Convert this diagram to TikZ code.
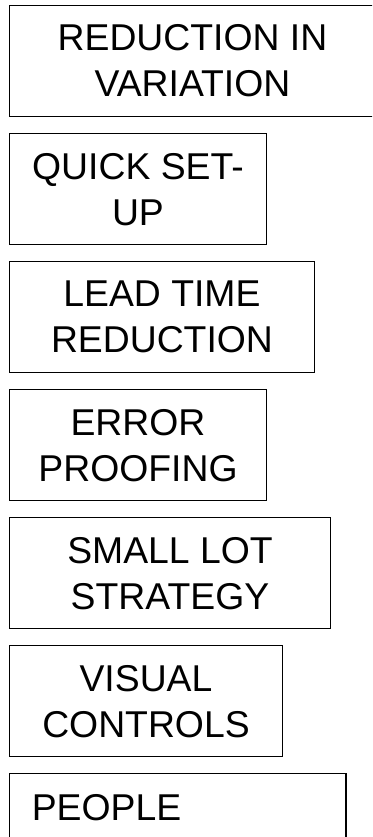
\documentclass[tikz,border=0pt]{standalone}
\usepackage{fontspec}
\setmainfont{Liberation Sans}
\begin{document}
\begin{tikzpicture}[x=0.75pt,y=-0.75pt,
  box/.style={draw=black, line width=1.1pt, rectangle, inner sep=0pt,
    anchor=north west, minimum height=83.25pt,
    font=\fontsize{28}{34.5}\selectfont, align=center},
  lbl/.style={inner sep=0pt, font=\fontsize{28}{34.5}\selectfont, align=center}]
\useasboundingbox (0,0) rectangle (372,837);
\clip (0,0) rectangle (372,837);
\node[box, minimum width=290pt] (b1) at (8.5,5) {};
\node[lbl] (t1) at (192.5,60.5) {REDUCTION IN\\VARIATION};
\node[box, minimum width=193.1pt] (b2) at (8.5,133) {QUICK SET-\\UP};
\node[box, minimum width=229.1pt] (b3) at (8.5,261) {LEAD TIME\\REDUCTION};
\node[box, minimum width=193.1pt] (b4) at (8.5,389) {ERROR\\PROOFING};
\node[box, minimum width=241.1pt] (b5) at (8.5,517) {SMALL LOT\\STRATEGY};
\node[box, minimum width=205.1pt] (b6) at (8.5,645) {VISUAL\\CONTROLS};
\node[box, minimum width=252.4pt] (b7) at (8.5,773) {};
\node[lbl, anchor=base west] (t7) at (31.5,820) {PEOPLE};
\end{tikzpicture}
\end{document}
